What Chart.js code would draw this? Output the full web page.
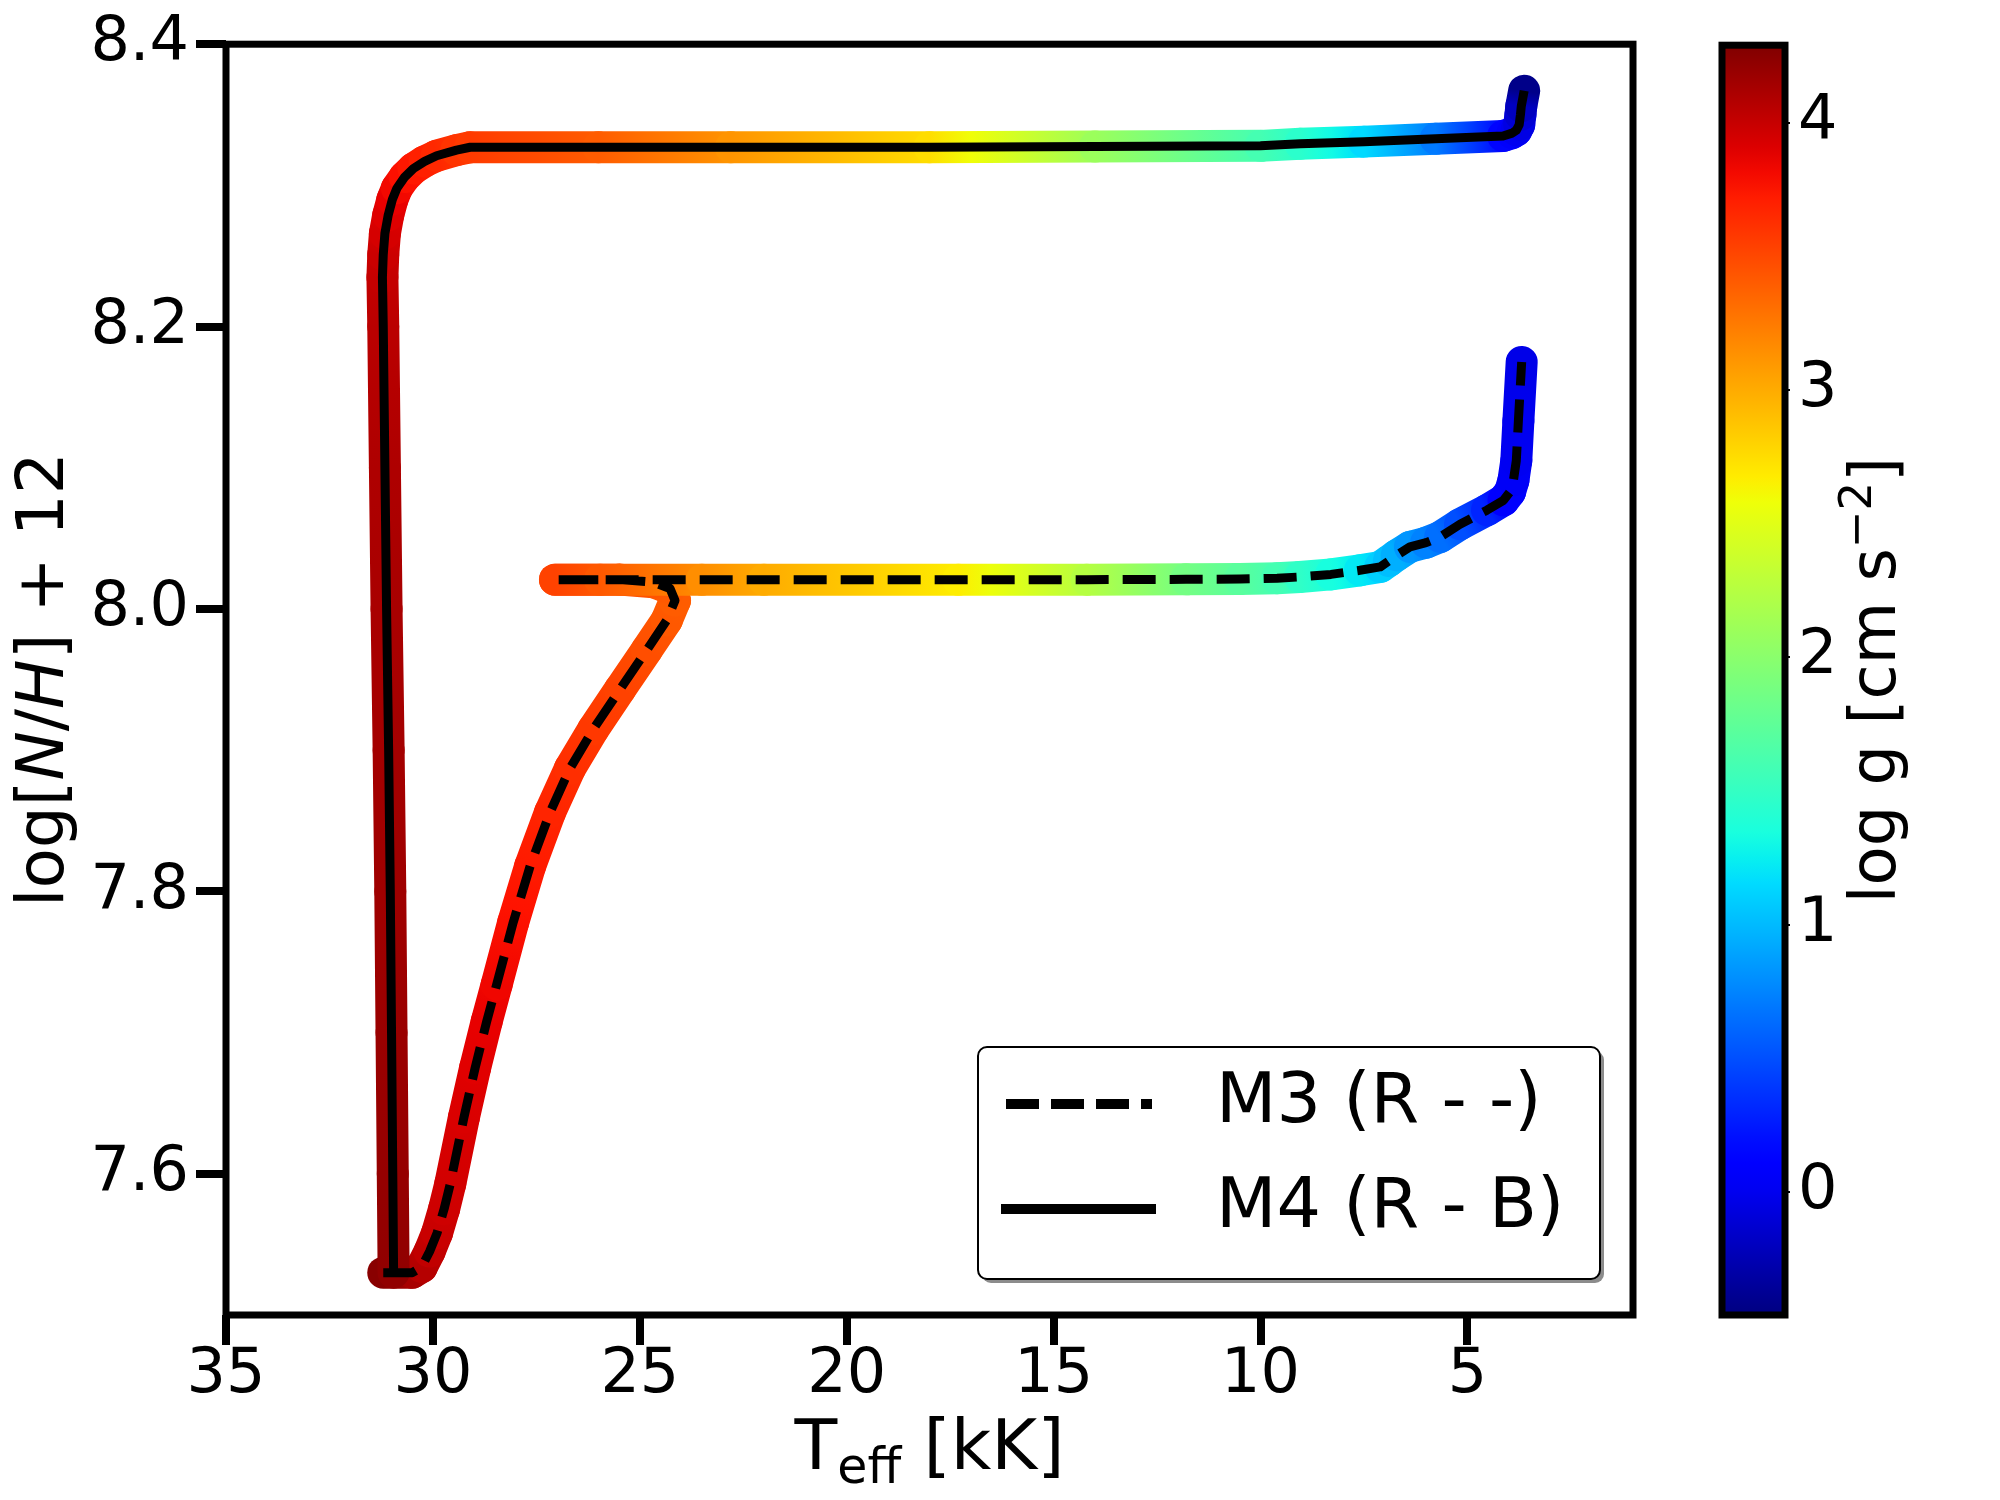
<!DOCTYPE html>
<html>
<head>
<meta charset="utf-8">
<script src="https://cdn.jsdelivr.net/npm/chart.js@4.4.1/dist/chart.umd.min.js"></script>
<style>
  html, body { margin: 0; padding: 0; background: #fff; }
  #wrap { position: relative; width: 2000px; height: 1500px; }
  #wrap canvas { position: absolute; left: 0; top: 0; }
</style>
</head>
<body>
<div id="wrap">
  <canvas id="main" width="2000" height="1500"></canvas>
  <canvas id="cbar" width="2000" height="1500"></canvas>
</div>
<script>
// M3 (R - -) track: Teff [kK], log[N/H]+12, log g
var m3Teff = [31.20, 30.50, 30.27, 30.08, 29.90, 29.73, 29.58, 29.25, 28.98, 28.70, 28.46, 28.06, 27.65, 27.17, 26.69, 26.12, 25.48, 24.83, 24.35, 24.15, 24.27, 24.67, 25.48, 27.05,
  25.96, 23.50, 22.00, 17.30, 14.20, 11.80, 10.50, 9.60, 9.05, 8.30, 7.60, 7.11, 6.90, 6.71, 6.39, 6.00, 5.66, 5.18, 4.53, 4.13, 3.97, 3.89, 3.82, 3.77, 3.69];
var m3NH = [7.530, 7.530, 7.534, 7.545, 7.558, 7.575, 7.593, 7.640, 7.675, 7.708, 7.734, 7.778, 7.818, 7.856, 7.887, 7.915, 7.943, 7.971, 7.992, 8.006, 8.0145, 8.019, 8.0208, 8.0208,
  8.0208, 8.0208, 8.0208, 8.0208, 8.0208, 8.021, 8.0212, 8.0218, 8.0227, 8.0245, 8.0274, 8.0298, 8.034, 8.038, 8.044, 8.047, 8.051, 8.060, 8.070, 8.077, 8.083, 8.091, 8.105, 8.133, 8.175];
var m3Logg = [4.25, 4.13, 4.07, 4.02, 3.99, 3.97, 3.95, 3.92, 3.89, 3.86, 3.83, 3.78, 3.73, 3.68, 3.63, 3.58, 3.53, 3.47, 3.42, 3.40, 3.41, 3.44, 3.48, 3.53,
  3.42, 3.15, 3.00, 2.67, 2.25, 1.87, 1.72, 1.60, 1.48, 1.34, 1.22, 1.10, 1.02, 0.95, 0.83, 0.74, 0.65, 0.50, 0.30, 0.12, 0.06, 0.03, 0.01, 0.00, -0.03];

// M4 (R - B) track
var m4Teff = [30.95, 30.97, 31.00, 31.03, 31.07, 31.12, 31.16, 31.20, 31.22, 31.20, 31.16, 31.08, 30.98, 30.87, 30.68, 30.47, 30.20, 29.91, 29.43, 29.10,
  26.00, 22.80, 18.00, 14.00, 10.00, 9.04, 7.50, 5.77, 4.14, 3.92, 3.82, 3.75, 3.72, 3.70, 3.63];
var m4NH = [7.530, 7.600, 7.700, 7.800, 7.900, 8.000, 8.100, 8.200, 8.235, 8.251, 8.266, 8.279, 8.290, 8.298, 8.306, 8.312, 8.317, 8.321, 8.325, 8.327,
  8.327, 8.327, 8.327, 8.3275, 8.328, 8.3295, 8.331, 8.333, 8.335, 8.337, 8.339, 8.343, 8.350, 8.356, 8.367];
var m4Logg = [4.22, 4.20, 4.18, 4.16, 4.14, 4.12, 4.10, 4.05, 4.01, 3.98, 3.94, 3.90, 3.86, 3.82, 3.78, 3.74, 3.70, 3.66, 3.60, 3.57,
  3.40, 3.12, 2.75, 2.10, 1.60, 1.45, 1.15, 0.70, 0.15, 0.05, 0.00, -0.05, -0.12, -0.20, -0.42];

var legendLabels = ['M3 (R - -)', 'M4 (R - B)'];
var xTicks = [35, 30, 25, 20, 15, 10, 5];
var yTicks = [7.6, 7.8, 8.0, 8.2, 8.4];
var cbTicks = [0, 1, 2, 3, 4];
var xMin = 1, xMax = 35, yMin = 7.5, yMax = 8.4;
var cbMin = -0.46, cbMax = 4.29;

var FONT = '"DejaVu Sans"';
Chart.defaults.font.family = FONT;
Chart.defaults.color = '#000';

// matplotlib jet
var jetR = [[0, 0], [0.35, 0], [0.66, 1], [0.89, 1], [1, 0.5]];
var jetG = [[0, 0], [0.125, 0], [0.375, 1], [0.64, 1], [0.91, 0], [1, 0]];
var jetB = [[0, 0.5], [0.11, 1], [0.34, 1], [0.65, 0], [1, 0]];
function chan(t, pts) {
  for (var i = 1; i < pts.length; i++) {
    if (t <= pts[i][0]) {
      var a = pts[i - 1], b = pts[i];
      return a[1] + (b[1] - a[1]) * (t - a[0]) / (b[0] - a[0]);
    }
  }
  return pts[pts.length - 1][1];
}
function jetT(t) {
  t = Math.max(0, Math.min(1, t));
  return 'rgb(' + Math.round(255 * chan(t, jetR)) + ',' + Math.round(255 * chan(t, jetG)) + ',' + Math.round(255 * chan(t, jetB)) + ')';
}
function jet(v) { return jetT((v - cbMin) / (cbMax - cbMin)); }

function pts(tx, ny) {
  return tx.map(function (t, i) { return { x: t, y: ny[i] }; });
}

var mainCtx = document.getElementById('main').getContext('2d');

// each segment gets its own gradient so the colour runs smoothly along the track
function bandColor(logg) {
  return function (ctx) {
    var p0 = ctx.p0, p1 = ctx.p1;
    var g0 = logg[ctx.p0DataIndex], g1 = logg[ctx.p1DataIndex];
    var grad = mainCtx.createLinearGradient(p0.x, p0.y, p1.x, p1.y);
    for (var k = 0; k <= 4; k++) {
      var f = k / 4;
      grad.addColorStop(f, jet(g0 + (g1 - g0) * f));
    }
    return grad;
  };
}

function drawRuns(c, runs, x, y) {
  runs.forEach(function (r) {
    c.font = r.font;
    c.fillText(r.text, x, y + (r.dy || 0));
    x += c.measureText(r.text).width;
  });
}
function runsWidth(c, runs) {
  var w = 0;
  runs.forEach(function (r) { c.font = r.font; w += c.measureText(r.text).width; });
  return w;
}

var framePlugin = {
  id: 'frame',
  afterDraw: function (chart) {
    var c = chart.ctx, a = chart.chartArea;
    c.save();
    c.strokeStyle = '#000';
    c.lineWidth = 7;
    c.lineJoin = 'miter';
    c.strokeRect(a.left, a.top, a.right - a.left, a.bottom - a.top);
    c.restore();
  }
};

var titlesPlugin = {
  id: 'titles',
  afterDraw: function (chart) {
    var c = chart.ctx, a = chart.chartArea;
    c.save();
    c.fillStyle = '#000';
    c.textBaseline = 'alphabetic';
    c.textAlign = 'left';
    var n = '66px ' + FONT, it = 'italic 66px ' + FONT;
    // y title
    var yr = [{ text: 'log[', font: n }, { text: 'N', font: it }, { text: '/', font: n },
      { text: 'H', font: it }, { text: ']', font: n }, { text: ' + 12', font: n }];
    c.save();
    c.translate(63, (a.top + a.bottom) / 2);
    c.rotate(-Math.PI / 2);
    drawRuns(c, yr, -runsWidth(c, yr) / 2, 0);
    c.restore();
    // x title
    var xn = '70px ' + FONT;
    var xr = [{ text: 'T', font: xn }, { text: 'eff', font: '49px ' + FONT, dy: 14 }, { text: ' [kK]', font: xn }];
    drawRuns(c, xr, (a.left + a.right) / 2 - runsWidth(c, xr) / 2, 1469);
    c.restore();
  }
};

var legendPlugin = {
  id: 'boxLegend',
  afterDraw: function (chart) {
    var c = chart.ctx, a = chart.chartArea;
    var w = 622, h = 232;
    var x0 = a.right - 33 - w, y0 = a.bottom - 36 - h;
    function box(dx, dy) {
      c.beginPath();
      c.roundRect(x0 + dx, y0 + dy, w, h, 9);
    }
    c.save();
    box(4, 4);
    c.fillStyle = '#8c8c8c';
    c.fill();
    box(0, 0);
    c.fillStyle = '#fff';
    c.fill();
    c.lineWidth = 2;
    c.strokeStyle = '#000';
    c.stroke();
    var rows = [y0 + 57, y0 + 162];
    c.lineWidth = 10;
    c.lineCap = 'butt';
    c.setLineDash([33, 12]);
    c.beginPath();
    c.moveTo(x0 + 28, rows[0]);
    c.lineTo(x0 + 174, rows[0]);
    c.stroke();
    c.setLineDash([]);
    c.beginPath();
    c.moveTo(x0 + 23, rows[1]);
    c.lineTo(x0 + 178, rows[1]);
    c.stroke();
    c.fillStyle = '#000';
    c.font = '70px ' + FONT;
    c.textBaseline = 'middle';
    c.fillText(legendLabels[0], x0 + 238, rows[0]);
    c.fillText(legendLabels[1], x0 + 238, rows[1]);
    c.restore();
  }
};

new Chart(mainCtx, {
  type: 'scatter',
  data: {
    datasets: [
      { label: 'M4 line', data: pts(m4Teff, m4NH), showLine: true, borderColor: '#000', borderWidth: 9,
        pointRadius: 0, borderCapStyle: 'butt', borderJoinStyle: 'round', tension: 0 },
      { label: 'M3 line', data: pts(m3Teff, m3NH), showLine: true, borderColor: '#000', borderWidth: 9,
        borderDash: [33, 14], pointRadius: 0, borderCapStyle: 'butt', borderJoinStyle: 'round', tension: 0 },
      { label: 'M4 band', data: pts(m4Teff, m4NH), showLine: true, borderWidth: 32, pointRadius: 0,
        borderCapStyle: 'round', borderJoinStyle: 'round', tension: 0,
        segment: { borderColor: bandColor(m4Logg) } },
      { label: 'M3 band', data: pts(m3Teff, m3NH), showLine: true, borderWidth: 32, pointRadius: 0,
        borderCapStyle: 'round', borderJoinStyle: 'round', tension: 0,
        segment: { borderColor: bandColor(m3Logg) } }
    ]
  },
  options: {
    responsive: false,
    animation: false,
    devicePixelRatio: 1,
    events: [],
    layout: { padding: { left: 0, right: 367, top: 38, bottom: 0 } },
    plugins: { legend: { display: false }, tooltip: { enabled: false } },
    scales: {
      x: {
        type: 'linear', reverse: true, min: xMin, max: xMax,
        afterBuildTicks: function (s) { s.ticks = xTicks.map(function (v) { return { value: v }; }); },
        afterFit: function (s) { s.height = 185; },
        ticks: { font: { size: 62, lineHeight: 1 }, padding: 0, maxRotation: 0,
          callback: function (v) { return String(v); } },
        grid: { display: true, drawOnChartArea: false, drawTicks: true, tickLength: 30,
          lineWidth: 8, tickWidth: 8, tickColor: '#000', color: '#000' },
        border: { display: false }
      },
      y: {
        type: 'linear', min: yMin, max: yMax,
        afterBuildTicks: function (s) { s.ticks = yTicks.map(function (v) { return { value: v }; }); },
        afterFit: function (s) { s.width = 226; },
        ticks: { font: { size: 62 }, padding: 7, callback: function (v) { return v.toFixed(1); } },
        grid: { display: true, drawOnChartArea: false, drawTicks: true, tickLength: 30,
          lineWidth: 8, tickWidth: 8, tickColor: '#000', color: '#000' },
        border: { display: false }
      }
    }
  },
  plugins: [framePlugin, titlesPlugin, legendPlugin]
});

// colour bar
var cbCtx = document.getElementById('cbar').getContext('2d');
var cbLabelPlugin = {
  id: 'cbLabel',
  afterDraw: function (chart) {
    var c = chart.ctx, a = chart.chartArea;
    var n = '64px ' + FONT;
    var runs = [{ text: 'log g [cm s', font: n }, { text: '\u22122', font: '45px ' + FONT, dy: -24 }, { text: ']', font: n }];
    c.save();
    c.fillStyle = '#000';
    c.textBaseline = 'alphabetic';
    c.translate(1895, (a.top + a.bottom) / 2);
    c.rotate(-Math.PI / 2);
    drawRuns(c, runs, -runsWidth(c, runs) / 2, 0);
    c.restore();
  }
};

new Chart(cbCtx, {
  type: 'bar',
  data: {
    labels: [''],
    datasets: [{
      data: [[cbMin, cbMax]],
      borderWidth: 0,
      barPercentage: 1,
      categoryPercentage: 1,
      backgroundColor: function (ctx) {
        var ch = ctx.chart, a = ch.chartArea;
        if (!a) return '#000';
        var ys = ch.scales.y;
        var g = ch.ctx.createLinearGradient(0, ys.getPixelForValue(cbMin), 0, ys.getPixelForValue(cbMax));
        for (var k = 0; k <= 50; k++) g.addColorStop(k / 50, jetT(k / 50));
        return g;
      }
    }]
  },
  options: {
    responsive: false,
    animation: false,
    devicePixelRatio: 1,
    events: [],
    layout: { padding: { left: 1722, right: 0, top: 38, bottom: 185 } },
    plugins: { legend: { display: false }, tooltip: { enabled: false } },
    scales: {
      x: { display: false },
      y: {
        position: 'right', min: cbMin, max: cbMax,
        afterBuildTicks: function (s) { s.ticks = cbTicks.map(function (v) { return { value: v }; }); },
        afterFit: function (s) { s.width = 215; },
        ticks: { font: { size: 62 }, padding: 8, callback: function (v) { return String(v); } },
        grid: { display: true, drawOnChartArea: false, drawTicks: true, tickLength: 5,
          lineWidth: 2, tickWidth: 2, tickColor: '#000', color: '#000' },
        border: { display: false }
      }
    }
  },
  plugins: [framePlugin, cbLabelPlugin]
});
</script>
</body>
</html>
